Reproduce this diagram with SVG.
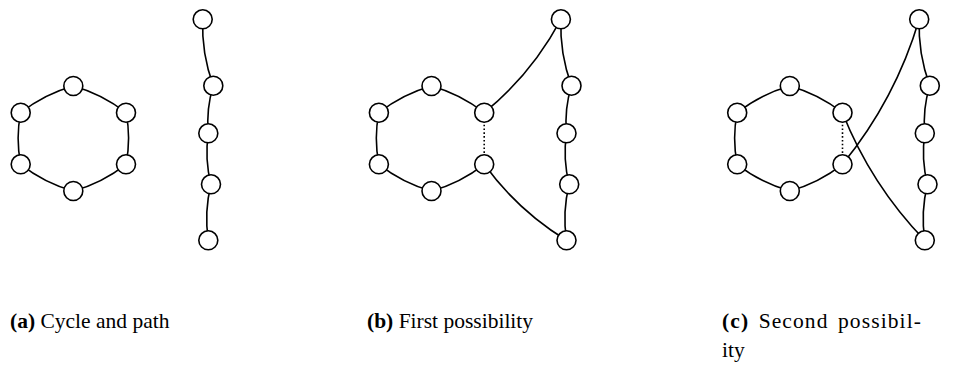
<svg xmlns="http://www.w3.org/2000/svg" width="959" height="372" viewBox="0 0 959 372">
<style>
.n{fill:#fff;stroke:#000;stroke-width:1.6}
.e{fill:none;stroke:#000;stroke-width:1.6}
.d{fill:none;stroke:#000;stroke-width:1.6;stroke-dasharray:1.6 2.2}
.t{font-family:"Liberation Serif","Times New Roman",serif;font-size:21.5px;fill:#000}
.b{font-weight:bold}
</style>
<rect width="959" height="372" fill="#fff"/>
<g id="connectors">
<!-- panel a hexagon -->
<path class="e" d="M73.3,86 Q44.3,94.1 20.7,112.7"/>
<path class="e" d="M20.7,112.7 Q15.5,138.5 20.7,164.3"/>
<path class="e" d="M20.7,164.3 Q44.3,182.9 73.3,191"/>
<path class="e" d="M73.3,191 Q102.3,182.9 126,164.3"/>
<path class="e" d="M126,164.3 Q131.2,138.5 126,112.7"/>
<path class="e" d="M126,112.7 Q102.3,94.1 73.3,86"/>
<!-- panel a path -->
<path class="e" d="M202.7,19.3 Q201.4,53.6 213.3,85.7"/>
<path class="e" d="M213.3,85.7 Q206,109 208.3,133.3"/>
<path class="e" d="M208.3,133.3 Q204.5,159 211,184.3"/>
<path class="e" d="M211,184.3 Q204,212 208.3,240.3"/>
<!-- panel b hexagon -->
<path class="e" d="M431.5,86 Q402.5,94.1 378.9,112.7"/>
<path class="e" d="M378.9,112.7 Q373.7,138.5 378.9,164.3"/>
<path class="e" d="M378.9,164.3 Q402.5,182.9 431.5,191"/>
<path class="e" d="M431.5,191 Q460.5,182.9 484.2,164.3"/>
<path class="d" d="M484.2,164.3 L484.2,112.7"/>
<path class="e" d="M484.2,112.7 Q460.5,94.1 431.5,86"/>
<!-- panel b path -->
<path class="e" d="M560.9,19.3 Q559.6,53.6 571.5,85.7"/>
<path class="e" d="M571.5,85.7 Q564.2,109 566.5,133.3"/>
<path class="e" d="M566.5,133.3 Q562.7,159 569.2,184.3"/>
<path class="e" d="M569.2,184.3 Q562.2,212 566.5,240.3"/>
<!-- panel b links -->
<path class="e" d="M484.2,112.7 Q531.9,73.7 560.9,19.3"/>
<path class="e" d="M484.2,164.3 Q517.8,210.5 566.5,240.3"/>
<!-- panel c hexagon -->
<path class="e" d="M789.8,86 Q760.8,94.1 737.2,112.7"/>
<path class="e" d="M737.2,112.7 Q732,138.5 737.2,164.3"/>
<path class="e" d="M737.2,164.3 Q760.8,182.9 789.8,191"/>
<path class="e" d="M789.8,191 Q818.8,182.9 842.5,164.3"/>
<path class="d" d="M842.5,164.3 L842.5,112.7"/>
<path class="e" d="M842.5,112.7 Q818.8,94.1 789.8,86"/>
<!-- panel c path -->
<path class="e" d="M919.2,19.3 Q917.9,53.6 929.8,85.7"/>
<path class="e" d="M929.8,85.7 Q922.5,109 924.8,133.3"/>
<path class="e" d="M924.8,133.3 Q921,159 927.5,184.3"/>
<path class="e" d="M927.5,184.3 Q920.5,212 924.8,240.3"/>
<!-- panel c links -->
<path class="e" d="M842.5,164.3 Q895.5,99.4 919.2,19.3"/>
<path class="e" d="M842.5,112.7 Q871,184.7 924.8,240.3"/>
</g>
<g id="a-h1"><circle class="n" cx="73.3" cy="86" r="9.5"/></g>
<g id="a-h2"><circle class="n" cx="20.7" cy="112.7" r="9.5"/></g>
<g id="a-h3"><circle class="n" cx="20.7" cy="164.3" r="9.5"/></g>
<g id="a-h4"><circle class="n" cx="73.3" cy="191" r="9.5"/></g>
<g id="a-h5"><circle class="n" cx="126" cy="164.3" r="9.5"/></g>
<g id="a-h6"><circle class="n" cx="126" cy="112.7" r="9.5"/></g>
<g id="a-p1"><circle class="n" cx="202.7" cy="19.3" r="9.5"/></g>
<g id="a-p2"><circle class="n" cx="213.3" cy="85.7" r="9.5"/></g>
<g id="a-p3"><circle class="n" cx="208.3" cy="133.3" r="9.5"/></g>
<g id="a-p4"><circle class="n" cx="211" cy="184.3" r="9.5"/></g>
<g id="a-p5"><circle class="n" cx="208.3" cy="240.3" r="9.5"/></g>
<g id="b-h1"><circle class="n" cx="431.5" cy="86" r="9.5"/></g>
<g id="b-h2"><circle class="n" cx="378.9" cy="112.7" r="9.5"/></g>
<g id="b-h3"><circle class="n" cx="378.9" cy="164.3" r="9.5"/></g>
<g id="b-h4"><circle class="n" cx="431.5" cy="191" r="9.5"/></g>
<g id="b-h5"><circle class="n" cx="484.2" cy="164.3" r="9.5"/></g>
<g id="b-h6"><circle class="n" cx="484.2" cy="112.7" r="9.5"/></g>
<g id="b-p1"><circle class="n" cx="560.9" cy="19.3" r="9.5"/></g>
<g id="b-p2"><circle class="n" cx="571.5" cy="85.7" r="9.5"/></g>
<g id="b-p3"><circle class="n" cx="566.5" cy="133.3" r="9.5"/></g>
<g id="b-p4"><circle class="n" cx="569.2" cy="184.3" r="9.5"/></g>
<g id="b-p5"><circle class="n" cx="566.5" cy="240.3" r="9.5"/></g>
<g id="c-h1"><circle class="n" cx="789.8" cy="86" r="9.5"/></g>
<g id="c-h2"><circle class="n" cx="737.2" cy="112.7" r="9.5"/></g>
<g id="c-h3"><circle class="n" cx="737.2" cy="164.3" r="9.5"/></g>
<g id="c-h4"><circle class="n" cx="789.8" cy="191" r="9.5"/></g>
<g id="c-h5"><circle class="n" cx="842.5" cy="164.3" r="9.5"/></g>
<g id="c-h6"><circle class="n" cx="842.5" cy="112.7" r="9.5"/></g>
<g id="c-p1"><circle class="n" cx="919.2" cy="19.3" r="9.5"/></g>
<g id="c-p2"><circle class="n" cx="929.8" cy="85.7" r="9.5"/></g>
<g id="c-p3"><circle class="n" cx="924.8" cy="133.3" r="9.5"/></g>
<g id="c-p4"><circle class="n" cx="927.5" cy="184.3" r="9.5"/></g>
<g id="c-p5"><circle class="n" cx="924.8" cy="240.3" r="9.5"/></g>
<g id="captions">
<text class="t" x="10" y="328"><tspan class="b">(a)</tspan> Cycle and path</text>
<text class="t" x="367" y="328"><tspan class="b">(b)</tspan> First possibility</text>
<text class="t" x="722" y="328" letter-spacing="1.1" word-spacing="3"><tspan class="b">(c)</tspan> Second possibil-</text>
<text class="t" x="722" y="357">ity</text>
</g>
</svg>
